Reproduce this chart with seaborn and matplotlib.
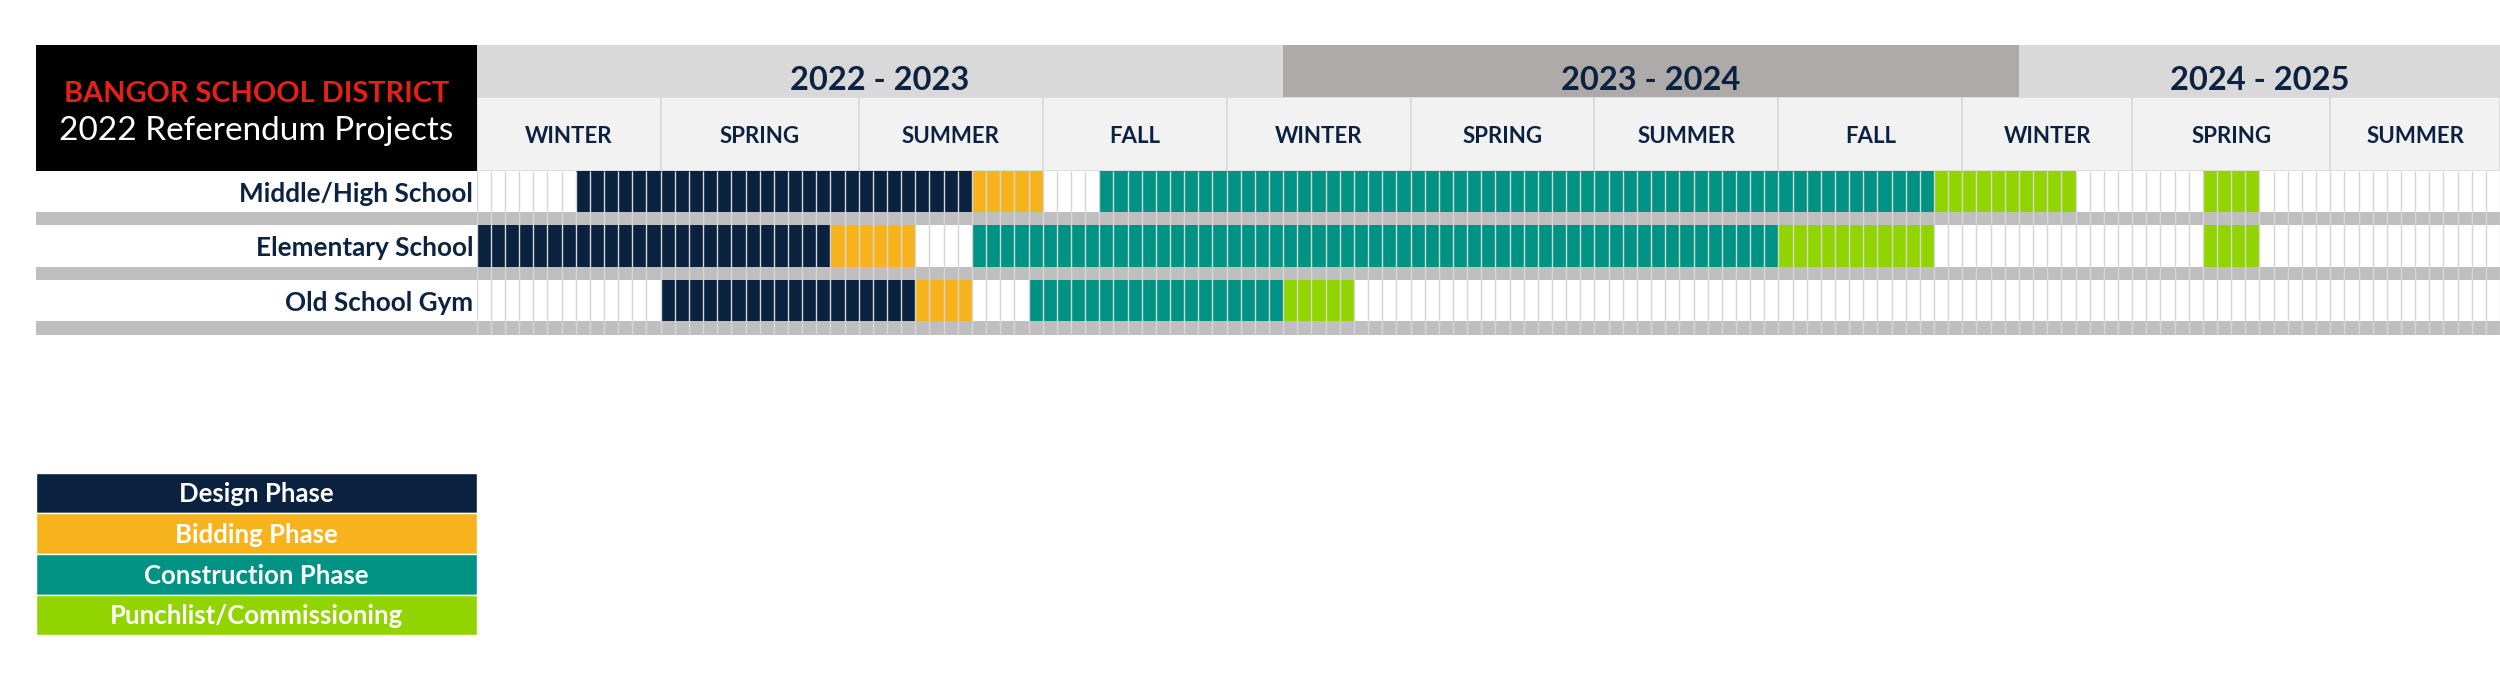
import numpy as np
import matplotlib
matplotlib.use("Agg")
import matplotlib.pyplot as plt
from matplotlib.colors import ListedColormap
import seaborn as sns

PROJECTS = ["Middle/High School", "Elementary School", "Old School Gym"]
PHASES = ["Design Phase", "Bidding Phase", "Construction Phase", "Punchlist/Commissioning"]
PHASE_COLORS = ["#0a2240", "#f7b31b", "#009384", "#92d400"]

# one entry per bar: project index, phase index, first week, number of weeks
task_project = [0, 0, 0, 0, 0, 1, 1, 1, 1, 1, 2, 2, 2, 2]
task_phase = [0, 1, 2, 3, 3, 0, 1, 2, 3, 3, 0, 1, 2, 3]
task_start = [7, 35, 44, 103, 122, 0, 25, 35, 92, 122, 13, 31, 39, 57]
task_weeks = [28, 5, 59, 10, 4, 25, 6, 57, 11, 4, 18, 4, 18, 5]

SEASONS = ["WINTER", "SPRING", "SUMMER", "FALL", "WINTER", "SPRING", "SUMMER",
           "FALL", "WINTER", "SPRING", "SUMMER"]
season_weeks = [13, 14, 13, 13, 13, 13, 13, 13, 12, 14, 12]
YEARS = ["2022 - 2023", "2023 - 2024", "2024 - 2025"]
year_weeks = [57, 52, 34]
YEAR_COLORS = ["#d9d9d9", "#aeaaaa", "#d9d9d9"]

NAVY = "#0b2240"
SEP_GRAY = "#bfbfbf"

sns.set_theme(style="white")
plt.rcParams["font.family"] = ["Lato", "DejaVu Sans"]

n_weeks = sum(season_weeks)
SUB = 3  # sub-rows per project, then one separator sub-row
grid = np.zeros((len(PROJECTS) * (SUB + 1), n_weeks))
for p, ph, s, w in zip(task_project, task_phase, task_start, task_weeks):
    grid[p * (SUB + 1):p * (SUB + 1) + SUB, s:s + w] = ph + 1
for p in range(len(PROJECTS)):
    grid[p * (SUB + 1) + SUB, :] = 5
cmap = ListedColormap(["#ffffff"] + PHASE_COLORS + [SEP_GRAY])

W, H = 2500, 676
fig = plt.figure(figsize=(W / 100, H / 100), dpi=100)
left = 36 / W
gx = 476.7 / W
top_hdr, mid_hdr, bot_grid = 45.3, 170.7, 335.0

# --- week grid
ax = fig.add_axes([gx, 1 - bot_grid / H, 1 - gx, (bot_grid - mid_hdr) / H])
sns.heatmap(grid, cmap=cmap, vmin=-0.5, vmax=5.5, cbar=False,
            xticklabels=False, yticklabels=False, ax=ax)
ax.vlines(np.arange(n_weeks + 1), 0, grid.shape[0], colors="#d6d6d6", lw=1.0)
ax.set_xlim(0, n_weeks)

# --- project labels with separator bands
lab = fig.add_axes([left, 1 - bot_grid / H, gx - left, (bot_grid - mid_hdr) / H], sharey=ax)
lab.set_xlim(0, 1)
for p, name in enumerate(PROJECTS):
    lab.axhspan(p * (SUB + 1) + SUB, (p + 1) * (SUB + 1), color=SEP_GRAY, lw=0)
    lab.text(0.992, p * (SUB + 1) + 2.26, name, ha="right", va="baseline",
             fontsize=18.8, fontweight="bold", color=NAVY)
lab.axis("off")

# --- year / season header
hax = fig.add_axes([gx, 1 - mid_hdr / H, 1 - gx, (mid_hdr - top_hdr) / H], sharex=ax)
hax.set_ylim(0, 1.71)
season_starts = np.concatenate([[0], np.cumsum(season_weeks)[:-1]])
hax.barh(0.5, season_weeks, left=season_starts, height=1.0, color="#f2f2f2",
         edgecolor="#d9d9d9", linewidth=1.2)
for s, w, name in zip(season_starts, season_weeks, SEASONS):
    hax.text(s + w / 2, 0.374, name, ha="center", va="baseline",
             fontsize=16, fontweight="bold", color=NAVY)
year_starts = np.concatenate([[0], np.cumsum(year_weeks)[:-1]])
hax.barh(1.355, year_weeks, left=year_starts, height=0.71, color=YEAR_COLORS, linewidth=0)
for s, w, name in zip(year_starts, year_weeks, YEARS):
    hax.text(s + w / 2, 1.10, name, ha="center", va="baseline",
             fontsize=23.5, fontweight="bold", color=NAVY)
hax.set_xlim(0, n_weeks)
hax.axis("off")

# --- title block
tax = fig.add_axes([left, 1 - mid_hdr / H, gx - left, (mid_hdr - top_hdr) / H])
tax.set_facecolor("black")
tax.set_xticks([])
tax.set_yticks([])
for sp in tax.spines.values():
    sp.set_visible(False)
tax.text(0.5, 0.55, "BANGOR SCHOOL DISTRICT", ha="center", va="baseline",
         fontsize=20.8, fontweight="bold", color="#e32119", transform=tax.transAxes)
tax.text(0.5, 0.245, "2022 Referendum Projects", ha="center", va="baseline",
         fontsize=24, color="white", transform=tax.transAxes)

# --- phase key
lax = fig.add_axes([left, 1 - 635.3 / H, gx - left, (635.3 - 472.7) / H])
sns.barplot(x=[1] * len(PHASES), y=PHASES, hue=PHASES, palette=PHASE_COLORS,
            saturation=1, width=1.0, legend=False, ax=lax)
lax.set_xlim(0, 1)
for i, name in enumerate(PHASES):
    lax.text(0.5, i + 0.23, name, ha="center", va="baseline",
             fontsize=18.5, fontweight="bold", color="white")
lax.axis("off")

fig.savefig("out.png", dpi=100, facecolor="white")
